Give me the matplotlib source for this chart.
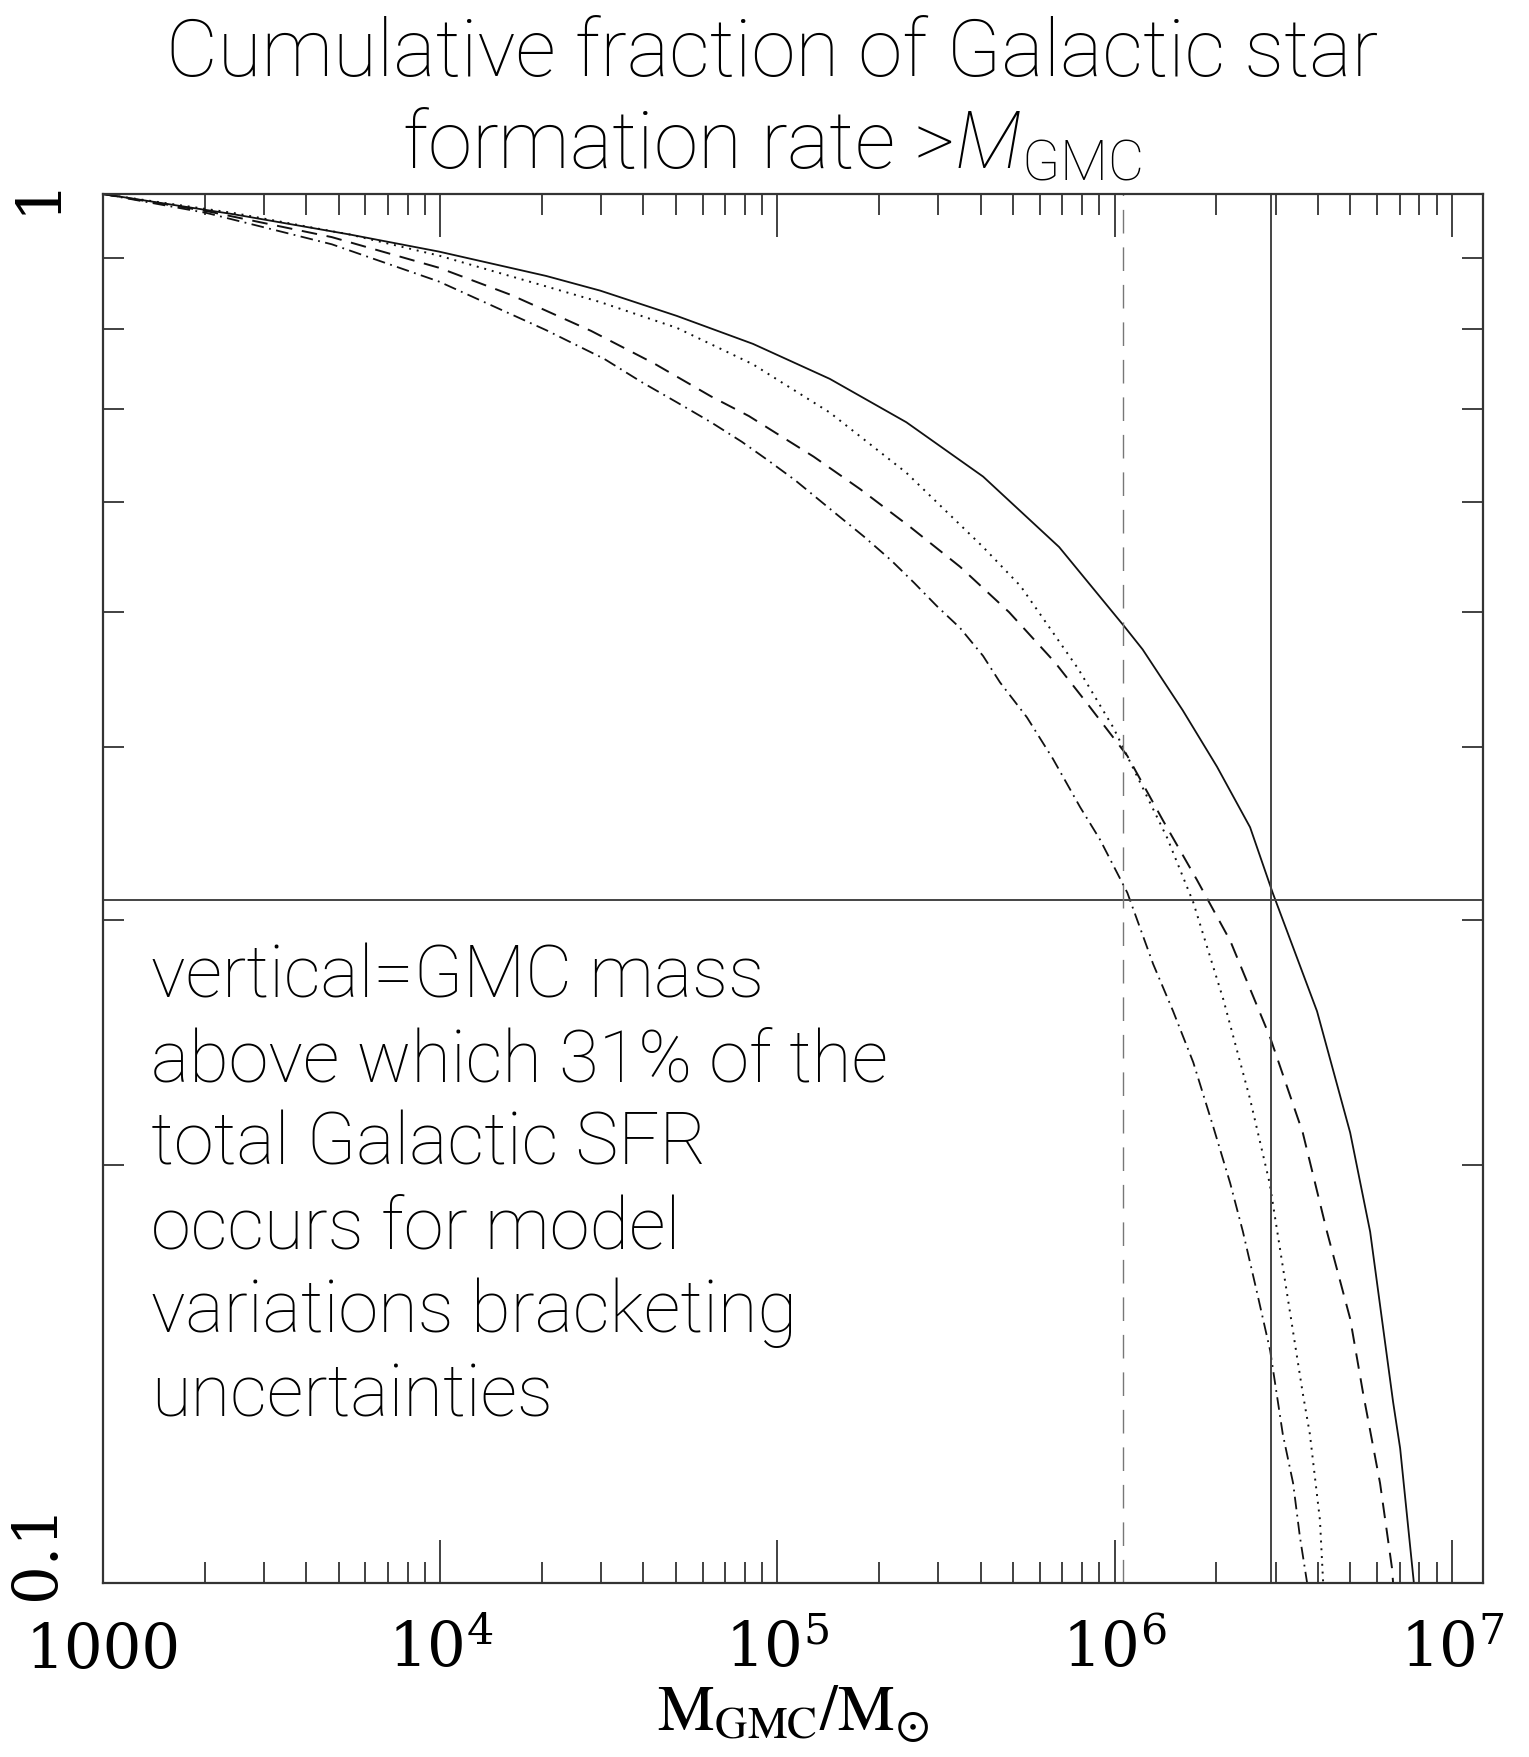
import numpy as np
import matplotlib
matplotlib.use("Agg")
import matplotlib.pyplot as plt
import matplotlib.transforms as mtransforms
from matplotlib.ticker import FixedLocator, FixedFormatter, NullFormatter

# ------------------------------------------------------------------------------
# values (M in solar masses, f = cumulative SFR fraction)
solid_m = [1.0e3, 2.44e3, 5.40e3, 9.9e3, 2.06e4, 2.98e4, 5.03e4, 8.46e4, 1.43e5,
           2.41e5, 4.07e5, 6.84e5, 1.07e6, 1.21e6, 1.59e6, 2.01e6, 2.52e6,
           2.94e6, 3.98e6, 4.99e6, 5.72e6, 6.69e6, 7.02e6, 7.71e6]
solid_f = [1.0, 0.967, 0.935, 0.909, 0.873, 0.852, 0.817, 0.780, 0.736,
           0.685, 0.626, 0.557, 0.488, 0.470, 0.425, 0.387, 0.350,
           0.314, 0.258, 0.211, 0.179, 0.135, 0.125, 0.100]

dotted_m = [1.0e3, 2.44e3, 5.40e3, 9.9e3, 2.06e4, 2.98e4, 5.03e4, 8.46e4, 1.43e5,
            2.41e5, 4.07e5, 5.26e5, 7.80e5, 9.9e5, 1.43e6, 1.71e6, 2.10e6,
            2.52e6, 2.88e6, 3.15e6, 3.61e6, 3.79e6, 4.06e6, 4.15e6]
dotted_f = [1.0, 0.969, 0.935, 0.903, 0.858, 0.836, 0.801, 0.754, 0.696,
            0.630, 0.557, 0.522, 0.455, 0.413, 0.344, 0.309, 0.263,
            0.223, 0.194, 0.169, 0.137, 0.128, 0.111, 0.100]

dashed_m = [1.0e3, 2.03e3, 4.77e3, 9.9e3, 1.62e4, 2.80e4, 4.31e4, 6.35e4, 8.23e4,
            1.28e5, 1.76e5, 2.47e5, 3.48e5, 4.86e5, 6.65e5, 8.27e5, 1.09e6,
            1.39e6, 1.75e6, 2.20e6, 2.89e6, 3.61e6, 4.26e6, 4.99e6, 5.45e6,
            6.12e6, 6.64e6, 6.69e6]
dashed_f = [1.0, 0.972, 0.931, 0.885, 0.846, 0.797, 0.755, 0.715, 0.692,
            0.647, 0.613, 0.576, 0.539, 0.500, 0.460, 0.430, 0.394,
            0.354, 0.321, 0.290, 0.247, 0.211, 0.179, 0.155, 0.137,
            0.118, 0.1025, 0.100]

dashdot_m = [1.0e3, 2.03e3, 4.77e3, 9.9e3, 2.06e4, 3.06e4, 3.96e4, 5.03e4, 6.35e4,
             7.85e4, 9.38e4, 1.13e5, 1.46e5, 1.80e5, 2.17e5, 2.54e5, 2.97e5,
             3.48e5, 4.07e5, 4.57e5, 5.49e5, 6.56e5, 7.89e5, 9.04e5, 1.09e6,
             1.30e6, 1.49e6, 1.71e6, 1.96e6, 2.20e6, 2.40e6, 2.64e6, 2.89e6,
             3.15e6, 3.38e6, 3.54e6, 3.72e6]
dashdot_f = [1.0, 0.969, 0.920, 0.865, 0.798, 0.761, 0.732, 0.708, 0.685,
             0.663, 0.643, 0.622, 0.591, 0.567, 0.545, 0.525, 0.505,
             0.487, 0.465, 0.445, 0.420, 0.392, 0.362, 0.343, 0.314,
             0.279, 0.258, 0.237, 0.213, 0.194, 0.179, 0.162, 0.147,
             0.128, 0.118, 0.108, 0.100]

sfr_level = 0.31        # horizontal line: 31% of the Galactic SFR
m_solid_line = 2.9e6    # vertical solid line
m_dashed_line = 1.06e6  # vertical dashed line

x_ticks = [1e3, 1e4, 1e5, 1e6, 1e7]
x_tick_labels = ['1000', r'$10^4$', r'$10^5$', r'$10^6$', r'$10^7$']
y_ticks = [0.1, 1.0]
y_tick_labels = ['0.1', '1']

title_line1 = 'Cumulative fraction of Galactic star'
title_line2 = r'formation rate >$M_{\mathrm{GMC}}$'
note_text = ('vertical=GMC mass\nabove which 31% of the\ntotal Galactic SFR\n'
             'occurs for model\nvariations bracketing\nuncertainties')
x_label = r'$\mathrm{M_{GMC}/M_{\odot}}$'

# ------------------------------------------------------------------------------
sans = 'Roboto'
plt.rcParams['mathtext.fontset'] = 'custom'
plt.rcParams['mathtext.rm'] = sans + ':light'
plt.rcParams['mathtext.it'] = sans + ':italic:light'

W, H = 1529, 1758
fig = plt.figure(figsize=(W / 100, H / 100), dpi=100)
ax = fig.add_axes([103 / W, 1 - 1584 / H, 1380 / W, 1389 / H])

ax.set_xscale('log')
ax.set_yscale('log')
ax.set_xlim(1e3, 1.236e7)
ax.set_ylim(0.1, 1.0)

ink = '#111111'
ax.plot(solid_m, solid_f, color=ink, lw=1.3, linestyle='-')
ax.plot(dotted_m, dotted_f, color=ink, lw=1.4, dashes=(1, 3))
ax.plot(dashed_m, dashed_f, color=ink, lw=1.4, dashes=(8, 5))
ax.plot(dashdot_m, dashdot_f, color=ink, lw=1.3, dashes=(7, 3, 1, 3))

ax.axhline(sfr_level, color='#444444', lw=1.4)
ax.axvline(m_solid_line, color='#444444', lw=1.4)
ax.axvline(m_dashed_line, color='#777777', lw=1.0, dashes=(17, 10))

# axes frame and ticks, PGPLOT style
for sp in ax.spines.values():
    sp.set_linewidth(1.6)
    sp.set_color('#333333')

ax.xaxis.set_major_locator(FixedLocator(x_ticks))
ax.xaxis.set_major_formatter(FixedFormatter(x_tick_labels))
x_minor = [k * 10 ** e for e in range(3, 7) for k in range(2, 10)]
ax.xaxis.set_minor_locator(FixedLocator(x_minor))
ax.xaxis.set_minor_formatter(NullFormatter())

ax.yaxis.set_major_locator(FixedLocator(y_ticks))
ax.yaxis.set_major_formatter(FixedFormatter(y_tick_labels))
ax.yaxis.set_minor_locator(FixedLocator([0.2, 0.3, 0.4, 0.5, 0.6, 0.7, 0.8, 0.9]))
ax.yaxis.set_minor_formatter(NullFormatter())

ax.tick_params(which='both', direction='in', top=True, right=True,
               color='#333333', width=1.3)
ax.tick_params(which='major', length=31)
ax.tick_params(which='minor', length=15)
ax.tick_params(axis='x', which='major', pad=26)
ax.tick_params(axis='y', which='major', pad=26)

for lab in ax.get_xticklabels():
    lab.set_fontfamily('DejaVu Serif')
    lab.set_fontsize(44)
    lab.set_math_fontfamily('dejavuserif')
for lab in ax.get_yticklabels():
    lab.set_fontfamily('DejaVu Serif')
    lab.set_fontsize(44)
    lab.set_rotation(90)
    lab.set_verticalalignment('center')
    if lab.get_text() == '0.1':
        lab.set_transform(lab.get_transform() +
                          mtransforms.ScaledTranslation(0, 0.33, fig.dpi_scale_trans))

ax.set_xlabel(x_label, fontsize=46, math_fontfamily='stix', labelpad=2)

# title (two lines) and note
fig.text(772 / W, 1 - 76 / H, title_line1, fontsize=57.5, family=sans,
         fontweight='light', ha='center', va='baseline', color='black')
fig.text(772 / W, 1 - 168 / H, title_line2, fontsize=57.5, family=sans,
         fontweight='light', ha='center', va='baseline', color='black')

ax.text(151 / W, 1 - 943 / H, note_text, transform=fig.transFigure,
        fontsize=52, family=sans, fontweight='light', ha='left', va='top',
        linespacing=1.26, color='black')

fig.savefig('out.png', dpi=100)
plt.close(fig)
